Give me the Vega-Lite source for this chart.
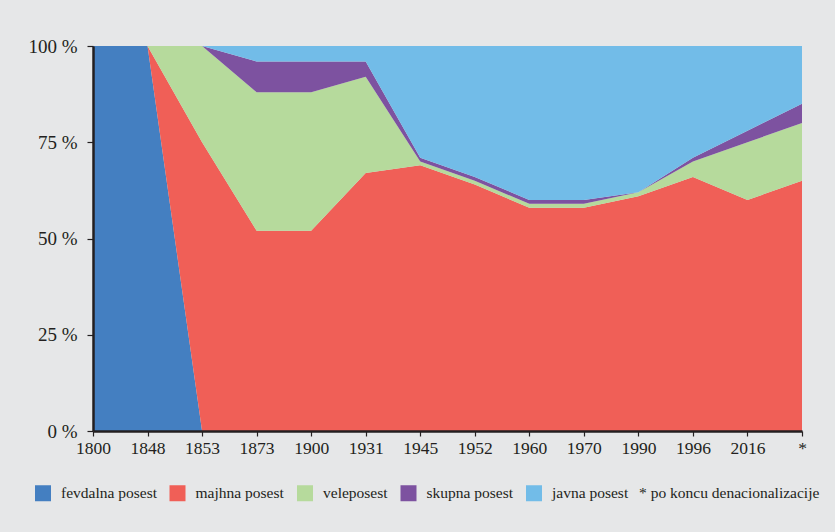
{
  "$schema": "https://vega.github.io/schema/vega-lite/v6.json",
  "autosize": {"type": "none"},
  "width": 709,
  "height": 385,
  "padding": {"left": 93, "top": 46, "right": 33, "bottom": 101},
  "background": "#e6e7e8",
  "config": {
    "view": {"stroke": null},
    "font": "Liberation Serif",
    "axis": {"grid": false, "domainColor": "#231f20", "domainWidth": 2.5, "tickColor": "#231f20", "tickWidth": 1.2, "tickSize": 6, "labelColor": "#231f20", "labelFont": "Liberation Serif", "title": null}
  },
  "data": {
    "values": [
      {"leto": "1800", "vrsta": "fevdalna posest", "n": 1, "delez": 100},
      {"leto": "1800", "vrsta": "majhna posest", "n": 2, "delez": 0},
      {"leto": "1800", "vrsta": "veleposest", "n": 3, "delez": 0},
      {"leto": "1800", "vrsta": "skupna posest", "n": 4, "delez": 0},
      {"leto": "1800", "vrsta": "javna posest", "n": 5, "delez": 0},
      {"leto": "1848", "vrsta": "fevdalna posest", "n": 1, "delez": 100},
      {"leto": "1848", "vrsta": "majhna posest", "n": 2, "delez": 0},
      {"leto": "1848", "vrsta": "veleposest", "n": 3, "delez": 0},
      {"leto": "1848", "vrsta": "skupna posest", "n": 4, "delez": 0},
      {"leto": "1848", "vrsta": "javna posest", "n": 5, "delez": 0},
      {"leto": "1853", "vrsta": "fevdalna posest", "n": 1, "delez": 0},
      {"leto": "1853", "vrsta": "majhna posest", "n": 2, "delez": 75},
      {"leto": "1853", "vrsta": "veleposest", "n": 3, "delez": 25},
      {"leto": "1853", "vrsta": "skupna posest", "n": 4, "delez": 0},
      {"leto": "1853", "vrsta": "javna posest", "n": 5, "delez": 0},
      {"leto": "1873", "vrsta": "fevdalna posest", "n": 1, "delez": 0},
      {"leto": "1873", "vrsta": "majhna posest", "n": 2, "delez": 52},
      {"leto": "1873", "vrsta": "veleposest", "n": 3, "delez": 36},
      {"leto": "1873", "vrsta": "skupna posest", "n": 4, "delez": 8},
      {"leto": "1873", "vrsta": "javna posest", "n": 5, "delez": 4},
      {"leto": "1900", "vrsta": "fevdalna posest", "n": 1, "delez": 0},
      {"leto": "1900", "vrsta": "majhna posest", "n": 2, "delez": 52},
      {"leto": "1900", "vrsta": "veleposest", "n": 3, "delez": 36},
      {"leto": "1900", "vrsta": "skupna posest", "n": 4, "delez": 8},
      {"leto": "1900", "vrsta": "javna posest", "n": 5, "delez": 4},
      {"leto": "1931", "vrsta": "fevdalna posest", "n": 1, "delez": 0},
      {"leto": "1931", "vrsta": "majhna posest", "n": 2, "delez": 67},
      {"leto": "1931", "vrsta": "veleposest", "n": 3, "delez": 25},
      {"leto": "1931", "vrsta": "skupna posest", "n": 4, "delez": 4},
      {"leto": "1931", "vrsta": "javna posest", "n": 5, "delez": 4},
      {"leto": "1945", "vrsta": "fevdalna posest", "n": 1, "delez": 0},
      {"leto": "1945", "vrsta": "majhna posest", "n": 2, "delez": 69},
      {"leto": "1945", "vrsta": "veleposest", "n": 3, "delez": 1},
      {"leto": "1945", "vrsta": "skupna posest", "n": 4, "delez": 1},
      {"leto": "1945", "vrsta": "javna posest", "n": 5, "delez": 29},
      {"leto": "1952", "vrsta": "fevdalna posest", "n": 1, "delez": 0},
      {"leto": "1952", "vrsta": "majhna posest", "n": 2, "delez": 64},
      {"leto": "1952", "vrsta": "veleposest", "n": 3, "delez": 1},
      {"leto": "1952", "vrsta": "skupna posest", "n": 4, "delez": 1},
      {"leto": "1952", "vrsta": "javna posest", "n": 5, "delez": 34},
      {"leto": "1960", "vrsta": "fevdalna posest", "n": 1, "delez": 0},
      {"leto": "1960", "vrsta": "majhna posest", "n": 2, "delez": 58},
      {"leto": "1960", "vrsta": "veleposest", "n": 3, "delez": 1},
      {"leto": "1960", "vrsta": "skupna posest", "n": 4, "delez": 1},
      {"leto": "1960", "vrsta": "javna posest", "n": 5, "delez": 40},
      {"leto": "1970", "vrsta": "fevdalna posest", "n": 1, "delez": 0},
      {"leto": "1970", "vrsta": "majhna posest", "n": 2, "delez": 58},
      {"leto": "1970", "vrsta": "veleposest", "n": 3, "delez": 1},
      {"leto": "1970", "vrsta": "skupna posest", "n": 4, "delez": 1},
      {"leto": "1970", "vrsta": "javna posest", "n": 5, "delez": 40},
      {"leto": "1990", "vrsta": "fevdalna posest", "n": 1, "delez": 0},
      {"leto": "1990", "vrsta": "majhna posest", "n": 2, "delez": 61},
      {"leto": "1990", "vrsta": "veleposest", "n": 3, "delez": 1},
      {"leto": "1990", "vrsta": "skupna posest", "n": 4, "delez": 0},
      {"leto": "1990", "vrsta": "javna posest", "n": 5, "delez": 38},
      {"leto": "1996", "vrsta": "fevdalna posest", "n": 1, "delez": 0},
      {"leto": "1996", "vrsta": "majhna posest", "n": 2, "delez": 66},
      {"leto": "1996", "vrsta": "veleposest", "n": 3, "delez": 4},
      {"leto": "1996", "vrsta": "skupna posest", "n": 4, "delez": 1},
      {"leto": "1996", "vrsta": "javna posest", "n": 5, "delez": 29},
      {"leto": "2016", "vrsta": "fevdalna posest", "n": 1, "delez": 0},
      {"leto": "2016", "vrsta": "majhna posest", "n": 2, "delez": 60},
      {"leto": "2016", "vrsta": "veleposest", "n": 3, "delez": 15},
      {"leto": "2016", "vrsta": "skupna posest", "n": 4, "delez": 3},
      {"leto": "2016", "vrsta": "javna posest", "n": 5, "delez": 22},
      {"leto": "*", "vrsta": "fevdalna posest", "n": 1, "delez": 0},
      {"leto": "*", "vrsta": "majhna posest", "n": 2, "delez": 65},
      {"leto": "*", "vrsta": "veleposest", "n": 3, "delez": 15},
      {"leto": "*", "vrsta": "skupna posest", "n": 4, "delez": 5},
      {"leto": "*", "vrsta": "javna posest", "n": 5, "delez": 15}
    ]
  },
  "mark": {"type": "area", "interpolate": "linear", "opacity": 1},
  "encoding": {
    "x": {
      "field": "leto",
      "type": "ordinal",
      "sort": ["1800", "1848", "1853", "1873", "1900", "1931", "1945", "1952", "1960", "1970", "1990", "1996", "2016", "*"],
      "scale": {"type": "point", "padding": 0},
      "axis": {"zindex": 2, "labelAngle": 0, "labelFontSize": 17.5, "labelPadding": 3, "tickSize": 5}
    },
    "y": {
      "field": "delez",
      "type": "quantitative",
      "stack": "zero",
      "scale": {"domain": [0, 100], "nice": false},
      "axis": {"zindex": 2, "values": [0, 25, 50, 75, 100], "labelExpr": "datum.value + ' %'", "labelFontSize": 19, "labelPadding": 10}
    },
    "order": {"field": "n", "type": "quantitative", "sort": "ascending"},
    "color": {
      "field": "vrsta",
      "type": "nominal",
      "sort": ["fevdalna posest", "majhna posest", "veleposest", "skupna posest", "javna posest"],
      "scale": {
        "domain": ["fevdalna posest", "majhna posest", "veleposest", "skupna posest", "javna posest"],
        "range": ["#447fc1", "#f05f57", "#b6da9c", "#7d52a0", "#72bce8"]
      },
      "legend": {
        "orient": "none",
        "direction": "horizontal",
        "legendX": -58,
        "legendY": 439,
        "title": "* po koncu denacionalizacije",
        "titleOrient": "right",
        "titleFontWeight": "normal",
        "titleFontSize": 15.5,
        "titleFont": "Liberation Serif",
        "titleColor": "#231f20",
        "titlePadding": 11,
        "titleLimit": 400,
        "titleBaseline": "middle",
        "symbolType": "square",
        "symbolSize": 256,
        "symbolStrokeWidth": 0,
        "symbolOpacity": 1,
        "labelFontSize": 15.5,
        "labelFont": "Liberation Serif",
        "labelColor": "#231f20",
        "labelOffset": 10,
        "columnPadding": 12.5
      }
    }
  }
}
